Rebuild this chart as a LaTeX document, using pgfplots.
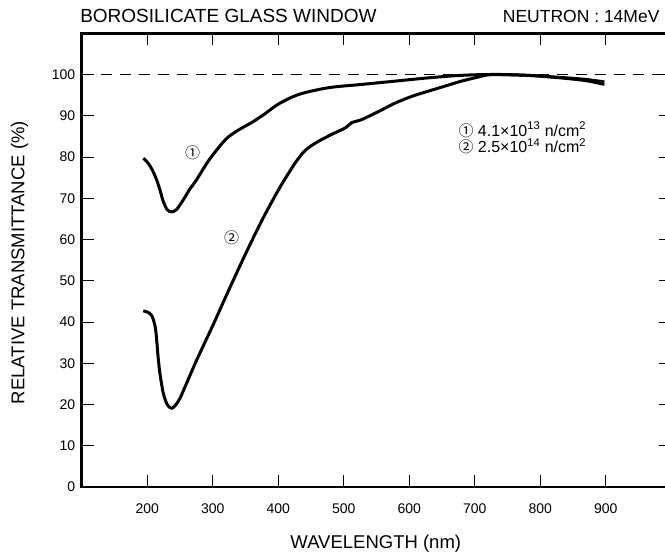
\documentclass[border=0pt]{standalone}
\usepackage{fontspec}
\setmainfont{Liberation Sans}
\newfontfamily\cjk{Noto Sans CJK JP}
\usepackage{pgfplots}
\pgfplotsset{compat=1.18}

% Dose 1: 4.1e13 n/cm^2
\pgfplotstableread{
nm    T
194   79.7
201   78.6
208   76.8
214   74.6
219.5 72.0
224.6 69.2
230.7 67.2
237.4 66.7
245   67.3
255   69.6
265   72.2
275   74.4
295   79.4
320   84.3
340   86.6
360   88.4
380   90.5
401   92.9
432   95.2
477   96.8
528   97.6
579   98.4
630   99.2
680   99.8
726   100.0
780   99.8
830   99.3
870   98.8
898   98.2
}\doseone

% Dose 2: 2.5e14 n/cm^2
\pgfplotstableread{
nm    T
194   42.7
203   42.2
208   41.2
212   39.0
214   36.5
216.5 31.8
219.4 27.6
224.6 22.7
230.8 19.9
237.4 19.1
243   19.8
250   21.5
260   25.1
275.6 30.8
300   39.1
325   47.9
351   56.8
376   64.9
401   72.2
414   75.6
427   78.8
440   81.4
457   83.4
482   85.5
503   87.1
512   88.3
528   89.1
554   91.1
579   93.1
604   94.7
630   96.0
655   97.2
680   98.4
706   99.4
726   100.0
780   99.8
830   99.2
870   98.5
898   97.6
}\dosetwo

\begin{document}
\begin{tikzpicture}
\begin{axis}[
  at={(0,0)}, anchor=south west,
  x=0.655pt, y=4.125pt,
  xmin=100, xmax=1000, ymin=0, ymax=110,
  clip=false,
  axis line style={line width=2.6pt},
  tick align=inside,
  major tick length=12pt,
  every tick/.style={black, line width=0.9pt},
  xtick={200,300,...,900},
  ytick={0,10,...,100},
  /pgf/number format/assume math mode=true,
  tick label style={font=\fontsize{14}{15}\selectfont},
  xticklabel style={yshift=-13pt},
  yticklabel style={xshift=-3pt},
  scaled ticks=false,
]
\addplot[black, line width=0.9pt, dash pattern=on 11pt off 8pt] coordinates {(100,100) (1000,100)};
\addplot[black, line width=3pt, smooth, tension=0.5] table[x=nm, y=T] {\doseone};
\addplot[black, line width=3pt, smooth, tension=0.5] table[x=nm, y=T] {\dosetwo};

\node[anchor=west, font=\fontsize{19}{21}\selectfont] at (axis cs:92.4,114.1) {BOROSILICATE GLASS WINDOW};
\node[anchor=east, font=\fontsize{17.5}{21}\selectfont] at (axis cs:987.5,114.1) {NEUTRON : 14MeV};
\node[font=\fontsize{18.5}{21}\selectfont] at (axis cs:549,-13.8) {WAVELENGTH (nm)};
\node[rotate=90, font=\fontsize{18.5}{21}\selectfont] at (axis cs:5,54.4) {RELATIVE TRANSMITTANCE (\%)};

\node[font=\cjk\fontsize{15}{16}\selectfont] at (axis cs:269.5,81.1) {①};
\node[font=\cjk\fontsize{15}{16}\selectfont] at (axis cs:329,60.5) {②};

\node[anchor=west, inner sep=0pt, font=\fontsize{16}{18}\selectfont] at (axis cs:675,86.6)
  {{\cjk\fontsize{15}{16}\selectfont ①}\ 4.1×10\textsuperscript{13} n/cm\textsuperscript{2}};
\node[anchor=west, inner sep=0pt, font=\fontsize{16}{18}\selectfont] at (axis cs:675,82.6)
  {{\cjk\fontsize{15}{16}\selectfont ②}\ 2.5×10\textsuperscript{14} n/cm\textsuperscript{2}};
\end{axis}
\pgfresetboundingbox
\useasboundingbox (-81.7pt,-68pt) rectangle (583.3pt,487pt);
\end{tikzpicture}
\end{document}
